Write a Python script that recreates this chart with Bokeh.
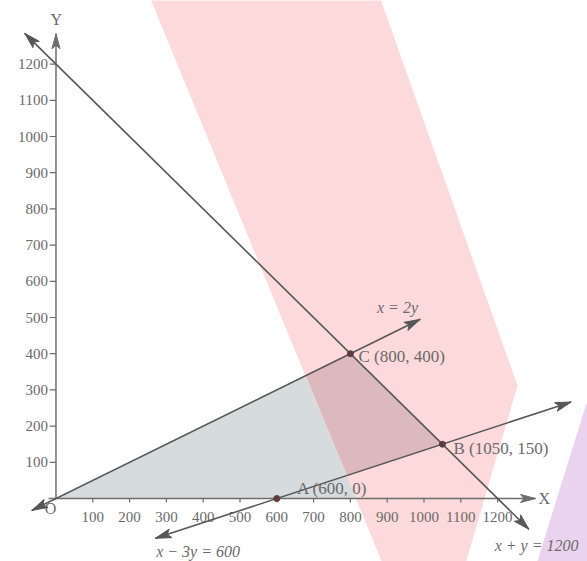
import math
from bokeh.plotting import figure
from bokeh.core.properties import value
from bokeh.embed import file_html
from bokeh.resources import INLINE

# ---------------- data ----------------
x_ticks = [100, 200, 300, 400, 500, 600, 700, 800, 900, 1000, 1100, 1200]
y_ticks = [100, 200, 300, 400, 500, 600, 700, 800, 900, 1000, 1100, 1200]
x_tick_labels = [str(v) for v in x_ticks]
y_tick_labels = [str(v) for v in y_ticks]

# constraint lines (end points, arrowheads at both ends)
sum_x = [-85, 1285]       # x + y = 1200
sum_y = [1285, -85]
half_x = [-66, 990]       # x = 2y
half_y = [-33, 495]
third_x = [270, 1400]     # x - 3y = 600
third_y = [-110, 266.7]

# axes extents
xaxis_x = [-20, 1303]
xaxis_y = [0, 0]
yaxis_x = [0, 0]
yaxis_y = [0, 1284]

# corner points
pt_x = [600, 1050, 800]
pt_y = [0, 150, 400]
pt_labels = ["A (600, 0)", "B (1050, 150)", "C (800, 400)"]
pt_label_x = [655, 1080, 822]
pt_label_y = [28, 138, 392]

# shaded regions
gray_x = [0, 678.7, 816.8]
gray_y = [0, 339.3, 0]
pink_x = [256.8, 881.8, 1254, 1112.8, 887.6]
pink_y = [1380, 1380, 312, -180, -180]
overlap_x = [678.7, 800, 1050, 790.9]
overlap_y = [339.3, 400, 150, 63.6]
purple_x = [1306, 1520, 1520]
purple_y = [-180, 520, -180]

# line labels
eq_labels = ["x = 2y", "x \u2212 3y = 600", "x + y = 1200"]
eq_x = [928, 386, 1192]
eq_y = [528, -146, -131]
eq_align = ["center", "center", "left"]

# ---------------- figure ----------------
W, H = 587, 561
X0, X1 = -150.8, 1444.3
Y0, Y1 = -174.0, 1375.7
kx = W / (X1 - X0)
ky = H / (Y1 - Y0)

p = figure(width=W, height=H, x_range=(X0, X1), y_range=(Y0, Y1),
           x_axis_type=None, y_axis_type=None, toolbar_location=None,
           output_backend="svg", min_border=0)
p.grid.visible = False
p.outline_line_color = None
p.background_fill_color = "white"
p.border_fill_color = "white"

SERIF = value("Liberation Serif")
LINE_C = "#575757"
AXIS_C = "#6e6e6e"
TEXT_C = "#6a6a6a"

# regions
p.patch(gray_x, gray_y, fill_color="#d6dbdd", line_color=None)
p.patch(pink_x, pink_y, fill_color="#fcd9da", line_color=None)
p.patch(overlap_x, overlap_y, fill_color="#dcb9bd", line_color=None)
p.patch(purple_x, purple_y, fill_color="#ead3ee", line_color=None)

# axes
p.line(xaxis_x, xaxis_y, line_color=AXIS_C, line_width=1.5)
p.line(yaxis_x, yaxis_y, line_color=AXIS_C, line_width=1.5)
p.segment(x0=x_ticks, y0=[0] * len(x_ticks), x1=x_ticks, y1=[-11] * len(x_ticks),
          line_color=AXIS_C, line_width=1.2)
p.segment(x0=[-17] * len(y_ticks), y0=y_ticks, x1=[0] * len(y_ticks), y1=y_ticks,
          line_color=AXIS_C, line_width=1.2)
p.text(x=x_ticks, y=[-52] * len(x_ticks), text=x_tick_labels, text_font=SERIF,
       text_font_size="15px", text_color=TEXT_C, text_align="center",
       text_baseline="middle")
p.text(x=[-22] * len(y_ticks), y=y_ticks, text=y_tick_labels, text_font=SERIF,
       text_font_size="15px", text_color=TEXT_C, text_align="right",
       text_baseline="middle")
p.text(x=[1327, 1, -15], y=[0, 1322, -28], text=["X", "Y", "O"], text_font=SERIF,
       text_font_size="16px", text_color=TEXT_C, text_align="center",
       text_baseline="middle")

# constraint lines
for lx, ly in [(sum_x, sum_y), (half_x, half_y), (third_x, third_y)]:
    p.line(lx, ly, line_color=LINE_C, line_width=1.6)


def head(tx, ty, fx, fy, L=16.0, hw=4.5, notch=3.5):
    dxp = (tx - fx) * kx
    dyp = (ty - fy) * ky
    n = math.hypot(dxp, dyp)
    ux, uy = dxp / n, dyp / n
    nx, ny = -uy, ux
    pix = [(0.0, 0.0),
           (-L * ux + hw * nx, -L * uy + hw * ny),
           (-(L - notch) * ux, -(L - notch) * uy),
           (-L * ux - hw * nx, -L * uy - hw * ny)]
    return [tx + a / kx for a, b in pix], [ty + b / ky for a, b in pix]


hx, hy, hc = [], [], []
for lx, ly in [(sum_x, sum_y), (half_x, half_y), (third_x, third_y)]:
    a = head(lx[1], ly[1], lx[0], ly[0])
    b = head(lx[0], ly[0], lx[1], ly[1])
    for h in (a, b):
        hx.append(h[0]); hy.append(h[1]); hc.append(LINE_C)
for lx, ly in [(xaxis_x, xaxis_y), (yaxis_x, yaxis_y)]:
    h = head(lx[1], ly[1], lx[0], ly[0], L=15.0, hw=4.0)
    hx.append(h[0]); hy.append(h[1]); hc.append(AXIS_C)
p.patches(hx, hy, fill_color=hc, line_color=hc, line_width=1)

# points and labels
p.scatter(pt_x, pt_y, size=6, fill_color="#5e3b3d", line_color="#5e3b3d")
p.text(x=pt_label_x, y=pt_label_y, text=pt_labels, text_font=SERIF,
       text_font_size="17px", text_color=TEXT_C, text_align="left",
       text_baseline="middle")
p.text(x=eq_x, y=eq_y, text=eq_labels, text_font=SERIF, text_font_style="italic",
       text_font_size="16px", text_color=TEXT_C, text_align=eq_align,
       text_baseline="middle")

open("out.html", "w").write(file_html(p, INLINE))
